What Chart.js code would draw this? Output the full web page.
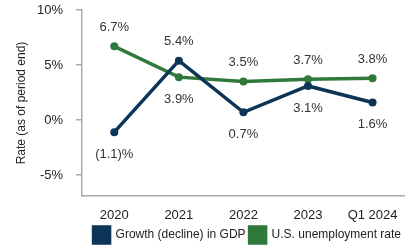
<!DOCTYPE html>
<html>
<head>
<meta charset="utf-8">
<script src="https://cdn.jsdelivr.net/npm/chart.js@4"></script>
<style>
  html, body { margin: 0; padding: 0; background: #fff; }
  #wrap { width: 410px; height: 251px; }
</style>
</head>
<body>
<div id="wrap"><canvas id="rateChart"></canvas></div>
<script>
const periods = ['2020', '2021', '2022', '2023', 'Q1 2024'];
const gdpGrowth = [-1.1, 5.4, 0.7, 3.1, 1.6];
const unemployment = [6.7, 3.9, 3.5, 3.7, 3.8];
const yTicks = [-5, 0, 5, 10];

const navy = '#0c3557';
const green = '#2f7a3b';
const FONT = "'Liberation Sans', Arial, sans-serif";

const fmt = (v) => v < 0 ? '(' + Math.abs(v).toFixed(1) + ')%' : v.toFixed(1) + '%';

// labels go above a point when its series is the higher one at that period
const pointLabels = {
    id: 'pointLabels',
    afterDatasetsDraw(chart) {
        const ctx = chart.ctx;
        const sets = chart.data.datasets;
        ctx.save();
        ctx.font = '13px ' + FONT;
        ctx.fillStyle = '#333';
        ctx.textAlign = 'center';
        ctx.textBaseline = 'middle';
        sets.forEach((ds, di) => {
            const other = sets[1 - di].data;
            chart.getDatasetMeta(di).data.forEach((pt, i) => {
                const v = ds.data[i];
                const above = v >= other[i];
                ctx.fillText(fmt(v), pt.x, above ? pt.y - 19 : pt.y + 22);
            });
        });
        ctx.restore();
    }
};

new Chart(document.getElementById('rateChart'), {
    type: 'line',
    data: {
        labels: periods,
        datasets: [
            {
                label: 'Growth (decline) in GDP',
                data: gdpGrowth,
                borderColor: navy,
                backgroundColor: navy,
                borderWidth: 3.5,
                pointRadius: 4,
                pointBackgroundColor: navy,
                pointBorderWidth: 0,
                tension: 0
            },
            {
                label: 'U.S. unemployment rate',
                data: unemployment,
                borderColor: green,
                backgroundColor: green,
                borderWidth: 3.5,
                pointRadius: 4,
                pointBackgroundColor: green,
                pointBorderWidth: 0,
                tension: 0
            }
        ]
    },
    options: {
        responsive: true,
        maintainAspectRatio: false,
        animation: false,
        layout: { padding: { top: 10, right: 5, left: 0, bottom: -2 } },
        plugins: {
            legend: {
                position: 'bottom',
                align: 'end',
                labels: {
                    boxWidth: 16,
                    boxHeight: 16,
                    padding: 4,
                    color: '#222',
                    font: { family: FONT, size: 12 }
                }
            },
            tooltip: { enabled: false }
        },
        scales: {
            x: {
                offset: true,
                afterFit: (scale) => { scale.height = 27; },
                grid: { drawOnChartArea: false, drawTicks: false },
                border: { color: '#aaa', width: 1.5 },
                ticks: { color: '#222', padding: 12, font: { family: FONT, size: 13 } }
            },
            y: {
                min: -6.9,
                max: 10,
                afterBuildTicks: (scale) => { scale.ticks = yTicks.map(v => ({ value: v })); },
                afterFit: (scale) => {
                    scale.width = 82;
                    scale.paddingTop = 0;
                    scale.paddingBottom = 0;
                },
                grid: { drawOnChartArea: false, drawTicks: true, tickLength: 6, color: '#aaa', lineWidth: 1.5 },
                border: { color: '#aaa', width: 1.5 },
                ticks: {
                    color: '#222',
                    padding: 13,
                    font: { family: FONT, size: 13 },
                    callback: (v) => v + '%'
                },
                title: {
                    display: true,
                    text: 'Rate (as of period end)',
                    color: '#222',
                    padding: { top: 14, bottom: 4 },
                    font: { family: FONT, size: 12 }
                }
            }
        }
    },
    plugins: [pointLabels]
});
</script>
</body>
</html>
